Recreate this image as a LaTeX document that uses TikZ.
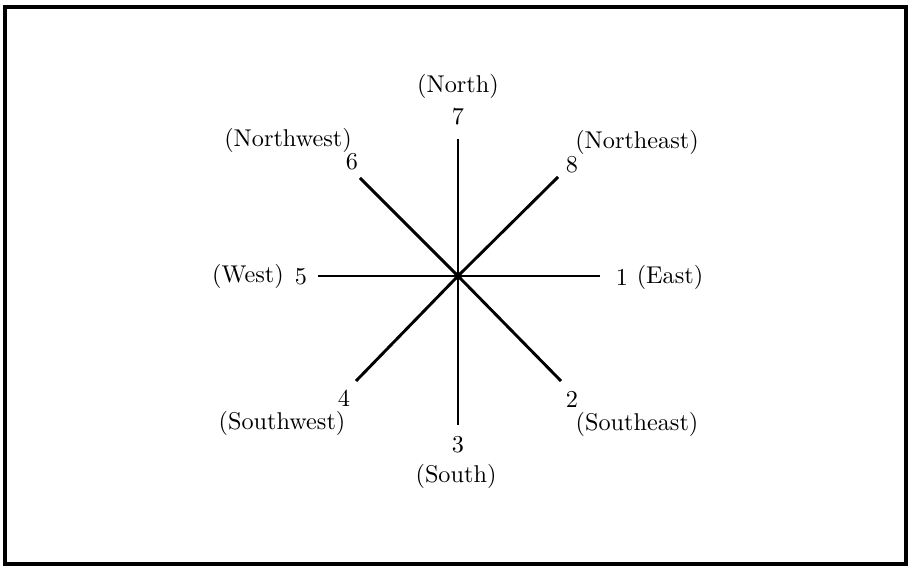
\documentclass[tikz,border=0pt]{standalone}
\usepackage{amsmath}
\usetikzlibrary{positioning,calc}

\tikzset{
  ray/.style={line width=1.2pt},
  lbl/.style={inner sep=0pt, font=\normalsize},
}

\begin{document}
\begin{tikzpicture}[x=0.0145cm, y=-0.0145cm]
  \useasboundingbox (0,0) rectangle (909,568);
  \draw[line width=1.3pt] (5,7) rectangle (906,564);
  % centre and ray ends
  \coordinate (c) at (458,276);
  \coordinate (e1) at (600,276);
  \coordinate (e2) at (561,381);
  \coordinate (e3) at (458,425);
  \coordinate (e4) at (356,381);
  \coordinate (e5) at (318,276);
  \coordinate (e6) at (360,178);
  \coordinate (e7) at (458,139);
  \coordinate (e8) at (558,177);
  \foreach \k in {1,...,8}
    \draw[ray] (c) -- (e\k);
  \fill (c) circle[radius=4];
  % numbers
  \node[lbl] (n1) at (622,277) {1};
  \node[lbl] (n2) at (572,399) {2};
  \node[lbl] (n3) at (458,445) {3};
  \node[lbl] (n4) at (344,398) {4};
  \node[lbl] (n5) at (301,277) {5};
  \node[lbl] (n6) at (352,162) {6};
  \node[lbl] (n7) at (458,117) {7};
  \node[lbl] (n8) at (572,165) {8};
  % directions
  \node[lbl] (east) at (670,277) {(East)};
  \node[lbl] (southeast) at (637,424) {(Southeast)};
  \node[lbl] (south) at (456,476) {(South)};
  \node[lbl] (southwest) at (282,423) {(Southwest)};
  \node[lbl] (west) at (248,276) {(West)};
  \node[lbl] (northwest) at (288,140) {(Northwest)};
  \node[lbl] (north) at (458,86) {(North)};
  \node[lbl] (northeast) at (637,142) {(Northeast)};
\end{tikzpicture}
\end{document}
